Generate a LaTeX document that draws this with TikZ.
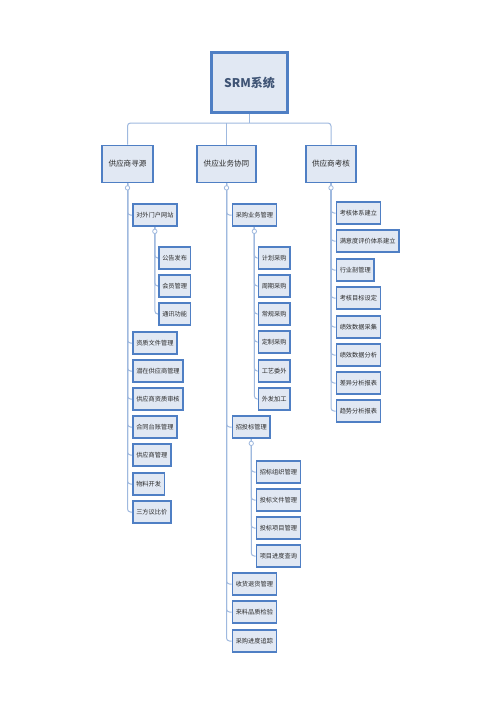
\documentclass[tikz,border=0pt]{standalone}
\usepackage{fontspec}
\usetikzlibrary{backgrounds}
\newfontfamily\cjk{Noto Sans CJK SC}
\definecolor{boxblue}{HTML}{4F7FC4}
\definecolor{boxfill}{HTML}{E1E8F3}
\definecolor{lineblue}{HTML}{9FB9DF}
\definecolor{txt}{HTML}{2B2B2B}
\definecolor{roottxt}{HTML}{3F5475}
\tikzset{
  box/.style={draw=boxblue, fill=boxfill, line width=1.7pt, text=txt,
    font=\cjk\fontsize{6.2}{7}\selectfont, minimum height=22pt,
    inner xsep=3.4pt, inner ysep=0pt, anchor=west},
  topbox/.style={draw=boxblue, fill=boxfill, line width=1.7pt, text=txt,
    font=\cjk\fontsize{7.6}{9}\selectfont, minimum height=37pt,
    inner xsep=5pt, inner ysep=0pt},
  rootbox/.style={draw=boxblue, fill=boxfill, line width=2.6pt, text=roottxt,
    font=\cjk\bfseries\fontsize{12}{14}\selectfont, minimum width=76pt,
    minimum height=60pt},
  link/.style={draw=lineblue, line width=1pt, rounded corners=3pt},
  knob/.style={circle, draw=lineblue, fill=white, line width=0.8pt,
    inner sep=0pt, minimum size=4.4pt}
}
\begin{document}
\begin{tikzpicture}[x=1pt,y=-1pt]
\useasboundingbox (0,0) rectangle (500,707);
% root and level 1
\node[rootbox] (root) at (249.5,82.5) {SRM系统};
\node[topbox, minimum width=51pt] (A) at (127.5,164) {供应商寻源};
\node[topbox, minimum width=59pt] (B) at (226.5,164) {供应业务协同};
\node[topbox, minimum width=50pt] (C) at (331,164) {供应商考核};
\coordinate (bus) at (249.5,123);
% left column
\node[box] (a1) at (132,215) {对外门户网站};
\node[box] (a11) at (158,258) {公告发布};
\node[box] (a12) at (158,286) {会员管理};
\node[box] (a13) at (158,314) {通讯功能};
\node[box] (a2) at (132,343) {资质文件管理};
\node[box] (a3) at (132,371) {潜在供应商管理};
\node[box] (a4) at (132,399) {供应商资质审核};
\node[box] (a5) at (132,427) {合同台账管理};
\node[box] (a6) at (132,455) {供应商管理};
\node[box] (a7) at (132,484) {物料开发};
\node[box] (a8) at (132,512) {三方议比价};
% middle column
\node[box] (b1) at (231.5,215) {采购业务管理};
\node[box] (b11) at (257.5,258) {计划采购};
\node[box] (b12) at (257.5,286) {周期采购};
\node[box] (b13) at (257.5,314) {常规采购};
\node[box] (b14) at (257.5,342) {定制采购};
\node[box] (b15) at (257.5,371) {工艺委外};
\node[box] (b16) at (257.5,399) {外发加工};
\node[box] (b2) at (231.5,427) {招投标管理};
\node[box] (b21) at (255.5,472) {招标组织管理};
\node[box] (b22) at (255.5,500) {投标文件管理};
\node[box] (b23) at (255.5,528) {投标项目管理};
\node[box] (b24) at (255.5,556) {项目进度查询};
\node[box] (b3) at (231.5,584) {收货退货管理};
\node[box] (b4) at (231.5,612) {来料品质检验};
\node[box] (b5) at (231.5,641) {采购进度追踪};
% right column
\node[box] (c1) at (335.5,213) {考核体系建立};
\node[box] (c2) at (335.5,241) {满意度评价体系建立};
\node[box] (c3) at (335.5,270) {行业剖管理};
\node[box] (c4) at (335.5,298) {考核目标设定};
\node[box] (c5) at (335.5,327) {绩效数据采集};
\node[box] (c6) at (335.5,355) {绩效数据分析};
\node[box] (c7) at (335.5,383) {差异分析报表};
\node[box] (c8) at (335.5,411) {趋势分析报表};
% connectors (behind boxes)
\begin{scope}[on background layer]
\fill[white] (0,0) rectangle (500,707);
\path[link] (root.south) -- (bus);
\path[link] (A.north) |- (bus) -| (C.north);
\path[link] (B.north) -- (B.north |- bus);
\foreach \c in {a1,a2,a3,a4,a5,a6,a7,a8} \path[link] (A.south) |- (\c.west);
\foreach \c in {a11,a12,a13} \path[link] (a1.south) |- (\c.west);
\foreach \c in {b1,b2,b3,b4,b5} \path[link] (B.south) |- (\c.west);
\foreach \c in {b11,b12,b13,b14,b15,b16} \path[link] (b1.south) |- (\c.west);
\foreach \c in {b21,b22,b23,b24} \path[link] (b2.south) |- (\c.west);
\foreach \c in {c1,c2,c3,c4,c5,c6,c7,c8} \path[link] (C.south) |- (\c.west);
\end{scope}
% collapse knobs
\foreach \p in {A,B,C,a1,b1,b2} \node[knob] (k\p) at ([yshift=-4.5pt]\p.south) {};
\end{tikzpicture}
\end{document}
